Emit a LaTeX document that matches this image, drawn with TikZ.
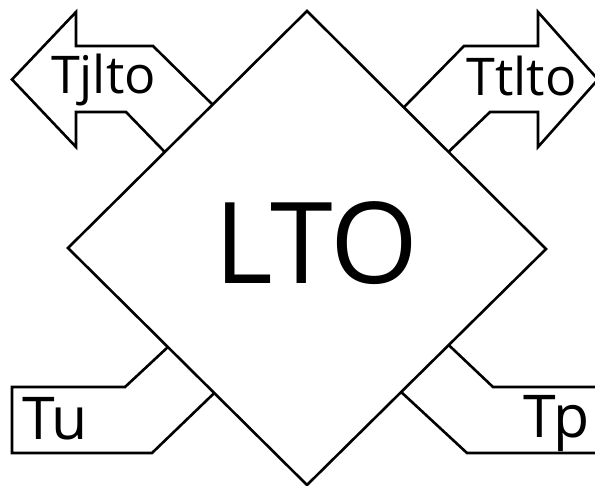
\documentclass[tikz,border=0pt]{standalone}
\usepackage{fontspec}
\setmainfont{Open Sans}
\usetikzlibrary{calc}
\begin{document}
\begin{tikzpicture}[x=1pt,y=-1pt,
  outline/.style={draw=black,line width=2.6pt,line join=miter,fill=white},
  bigtxt/.style={inner sep=0pt,font=\fontsize{113}{113}\selectfont},
  lbl/.style={inner sep=0pt,anchor=base,font=\fontsize{52}{52}\selectfont},
  lblb/.style={inner sep=0pt,anchor=base,font=\fontsize{59}{59}\selectfont}]
\clip (0,0) rectangle (595,486);
\fill[white] (0,0) rectangle (595,486);
% diamond vertices
\coordinate (T) at (307,11);
\coordinate (L) at (68,248);
\coordinate (R) at (546,249);
\coordinate (B) at (307,485);
% attach points on the diamond edges
\coordinate (tl1) at ($(L)!0.605!(T)$);
\coordinate (tl2) at ($(L)!0.405!(T)$);
\coordinate (tr1) at ($(T)!0.405!(R)$);
\coordinate (tr2) at ($(T)!0.592!(R)$);
\coordinate (bl1) at ($(L)!0.418!(B)$);
\coordinate (bl2) at ($(L)!0.612!(B)$);
\coordinate (br1) at ($(R)!0.407!(B)$);
\coordinate (br2) at ($(R)!0.606!(B)$);
% Tjlto arrow (left)
\draw[outline] (tl1) -- (153,46) -- (76,46) -- (76,12) -- (12,79.5) -- (76,147) -- (76,112) -- (126,112) -- (tl2);
% Ttlto arrow (right)
\draw[outline] (tr1) -- (464,46) -- (538,46) -- (538,12) -- (598,79.5) -- (538,147) -- (538,112) -- (490,112) -- (tr2);
% Tu box
\draw[outline] (bl1) -- (125,387) -- (12,387) -- (12,453) -- (152,453) -- (bl2);
% Tp box
\draw[outline] (br1) -- (493,387) -- (620,387) -- (620,453) -- (467,453) -- (br2);
% diamond
\draw[outline,fill=none] (T) -- (R) -- (B) -- (L) -- cycle;
% labels
\node[bigtxt] (lto) at (316.5,243.5) {LTO};
\node[lbl] (tjlto) at (103.5,94) {Tjlto};
\node[lbl] (ttlto) at (521.5,96) {Ttlto};
\node[lblb] (tu) at (55,440) {Tu};
\node[lblb] (tp) at (556.5,438) {Tp};
\end{tikzpicture}
\end{document}
